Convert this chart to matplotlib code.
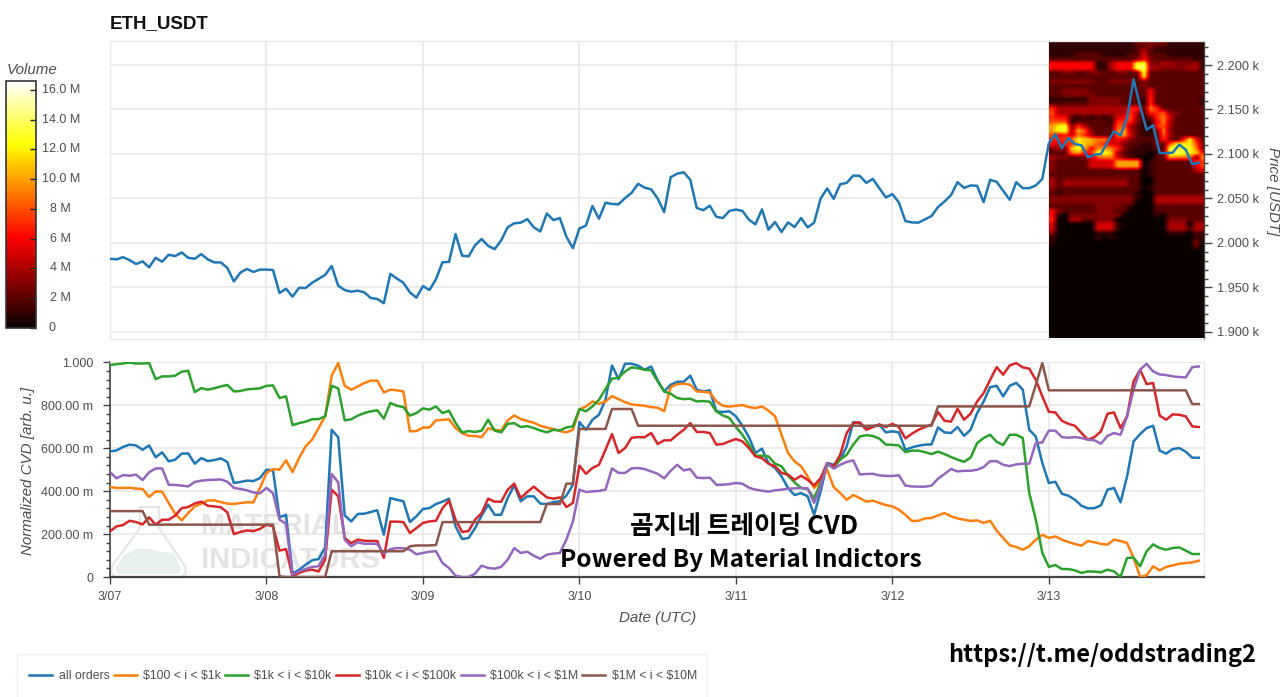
import numpy as np
import matplotlib
matplotlib.use("Agg")
import matplotlib.pyplot as plt
from matplotlib.colors import Normalize
from matplotlib.cm import ScalarMappable
from matplotlib.patches import Polygon, Rectangle
from matplotlib.transforms import Affine2D

W, H = 1280, 697

day_labels = ["3/07", "3/08", "3/09", "3/10", "3/11", "3/12", "3/13"]
day_hours = [0, 24, 48, 72, 96, 120, 144]

price = [
    1982.2, 1981.5, 1984, 1980.7, 1976.3, 1979.3, 1972.6, 1983.3, 1978.9, 1986.7,
    1985.2, 1989.3, 1983.3, 1982.2, 1987.4, 1981.5, 1978.1, 1978.1, 1971.9, 1956.7,
    1966.7, 1970.7, 1967.4, 1970, 1970, 1969.6, 1943.7, 1948.5, 1939.6, 1949.6,
    1949.3, 1955.2, 1959.6, 1964.1, 1974.1, 1951.9, 1947, 1945.2, 1946.3, 1944.4,
    1938.1, 1937, 1932.2, 1965.2, 1960, 1955.2, 1944.4, 1938.5, 1951.5, 1947,
    1959.2, 1978.3, 1978.7, 2009.9, 1985.7, 1984.9, 1997.4, 2004.4, 1996.7, 1993,
    2002.9, 2017.6, 2022.1, 2022.8, 2026.8, 2017.6, 2012.9, 2033.1, 2025.7, 2027.9,
    2007, 1994.1, 2016.2, 2019.5, 2041.5, 2027.2, 2045.2, 2043.8, 2043.4, 2050.4,
    2056.3, 2066.5, 2062.1, 2060.3, 2050, 2034.6, 2073.9, 2077.9, 2079.4, 2071,
    2039.3, 2036.8, 2041.9, 2029.4, 2027.9, 2036, 2037.5, 2036, 2026.1,
    2020.9, 2037.7, 2014.9, 2023.5, 2012.3, 2023.1, 2017.9, 2028, 2017.5, 2022.8,
    2050, 2061.2, 2049.6, 2066, 2067.5, 2075.7, 2075.4, 2067.5, 2072, 2061.6,
    2051.1, 2054.9, 2045.5, 2024.6, 2023.1, 2022.8, 2026.5, 2030.2, 2040.3, 2046.6,
    2053.7, 2068.3, 2061.9, 2064.6, 2064.2, 2045.9, 2070.9, 2068.7, 2058.6, 2048.5,
    2068.3, 2061.6, 2061.6, 2064.6, 2072,
    2112, 2122, 2106.7, 2118, 2111.2, 2109.7, 2096.2, 2099.2, 2100, 2113.5,
    2125.4, 2121, 2140.4, 2183.9, 2153.5, 2127.3, 2132.2, 2101.1, 2101, 2101.5,
    2110.5, 2104.8, 2088.7, 2090.2,
]

# normalized CVD, in milli units
all_orders = [
    585, 590, 606, 617, 613, 593, 613, 558, 581, 539, 547, 575, 576, 528, 554, 540,
    545, 553, 536, 438, 443, 449, 447, 461, 500, 498, 278, 290, 16, 34, 57, 78, 84,
    138, 686, 651, 287, 259, 294, 295, 303, 311, 197, 368, 360,
    353, 256, 283, 317, 321, 340, 351, 365, 236, 177, 182, 228, 286, 337, 290, 290,
    368, 427, 353, 376, 376, 342, 340, 349, 353, 379, 430, 722, 686, 733, 756, 826,
    986, 922, 994, 994, 985, 966, 981, 916, 865, 896, 910, 910, 938, 873, 865, 870,
    772, 769, 772, 749, 705, 652, 578, 598, 531, 508, 469, 415, 382,
    391, 376, 290, 399, 531, 523, 547, 609, 722, 717, 691, 702, 710, 674, 679, 674,
    593, 604, 612, 617, 618, 697, 674, 671, 699, 658, 686, 764, 818, 885, 891, 842,
    891, 905, 873, 686, 655, 531, 438, 444, 388, 379, 360, 332, 320, 321, 334, 407,
    415, 348, 469, 632, 666, 694, 705, 589, 575, 596, 601, 584, 556, 556,
]
tier_100_1k = [
    419, 415, 415, 416, 412, 410, 373, 399, 398, 345, 295, 264, 298, 329, 342, 357,
    357, 349, 342, 340, 345, 348, 348, 415, 485, 503, 500, 544, 489, 554, 609, 640,
    694, 749, 938, 997, 891, 873, 888, 904, 915, 915, 860, 873, 870,
    865, 679, 680, 696, 697, 730, 732, 735, 694, 671, 658, 657, 652, 693, 686, 682,
    730, 753, 736, 727, 719, 705, 696, 690, 680, 674, 686, 780, 795, 818, 807, 818,
    843, 829, 815, 804, 801, 798, 792, 789, 773, 885, 899, 901, 896, 865, 863, 860,
    818, 798, 794, 798, 801, 792, 787, 795, 775, 749, 663, 578, 539,
    516, 469, 415, 446, 500, 419, 391, 360, 382, 368, 351, 356, 345, 335, 329, 314,
    290, 261, 262, 273, 275, 287, 298, 283, 273, 267, 261, 264, 252, 262, 216, 182,
    148, 140, 127, 143, 174, 197, 182, 189, 174, 163, 154, 146, 168, 162, 154, 151,
    174, 168, 158, 89, 0, 8, 50, 31, 47, 54, 62, 65, 68, 76,
]
tier_1k_10k = [
    988, 992, 995, 999, 995, 995, 997, 922, 935, 935, 938, 957, 961, 862, 880, 873,
    880, 888, 895, 865, 867, 874, 877, 879, 891, 893, 834, 842, 708, 717, 724, 735,
    736, 749, 891, 879, 730, 735, 752, 764, 772, 777, 738, 811, 798,
    792, 752, 764, 786, 780, 795, 764, 775, 718, 674, 680, 676, 682, 733, 682, 674,
    714, 717, 699, 703, 694, 683, 674, 686, 683, 697, 702, 783, 772, 795, 826, 876,
    924, 929, 958, 977, 973, 966, 963, 912, 865, 854, 834, 829, 831, 818, 820, 817,
    772, 753, 741, 699, 663, 617, 565, 565, 562, 528, 516, 472, 441,
    415, 410, 368, 438, 523, 512, 547, 570, 617, 655, 661, 657, 645, 617, 616, 613,
    582, 589, 589, 582, 573, 584, 573, 559, 547, 537, 556, 624, 648, 663, 630, 615,
    663, 663, 648, 391, 267, 112, 47, 56, 37, 37, 31, 19, 26, 25, 22, 34,
    26, 0, 89, 90, 50, 120, 152, 135, 127, 135, 138, 123, 107, 107,
]
tier_10k_100k = [
    213, 236, 242, 262, 256, 245, 278, 244, 267, 267, 286, 321, 326, 343, 351, 332,
    329, 325, 301, 200, 210, 217, 214, 224, 244, 236, 123, 130, 3, 19, 30, 34, 26,
    81, 407, 376, 182, 158, 174, 169, 168, 168, 89, 258, 258,
    256, 205, 228, 252, 259, 262, 321, 356, 267, 210, 214, 267, 298, 365, 351, 351,
    407, 435, 368, 396, 421, 396, 371, 365, 371, 326, 345, 519, 481, 508, 523, 593,
    666, 578, 601, 649, 652, 651, 671, 620, 637, 637, 663, 686, 717, 676, 676, 671,
    617, 620, 632, 643, 632, 601, 562, 554, 528, 516, 485, 477, 453,
    472, 453, 427, 461, 531, 516, 570, 671, 717, 721, 686, 699, 711, 699, 714, 699,
    646, 668, 686, 699, 710, 769, 728, 724, 784, 733, 761, 818, 857, 919, 978, 943,
    986, 997, 977, 971, 919, 842, 770, 767, 728, 714, 705, 671, 640, 652, 679, 761,
    767, 694, 749, 912, 966, 899, 904, 752, 733, 758, 756, 749, 702, 699,
]
tier_100k_1m = [
    489, 460, 475, 472, 477, 452, 488, 506, 506, 430, 429, 426, 422, 443, 449, 452,
    453, 455, 444, 416, 410, 404, 394, 390, 415, 391, 267, 248, 11, 26, 37, 47, 50,
    104, 480, 441, 174, 143, 162, 155, 155, 154, 109, 130, 135,
    134, 127, 106, 112, 118, 120, 65, 42, 6, 0, 0, 16, 53, 42, 39, 47,
    81, 135, 112, 118, 99, 85, 104, 109, 112, 174, 259, 407, 396, 399, 401, 407,
    506, 485, 485, 506, 508, 503, 492, 481, 460, 495, 523, 497, 503, 463, 461, 463,
    430, 430, 433, 438, 435, 416, 407, 402, 398, 404, 407, 412, 413,
    415, 413, 345, 422, 531, 505, 523, 536, 544, 478, 480, 481, 474, 471, 471, 474,
    426, 422, 421, 421, 426, 458, 480, 503, 492, 495, 495, 500, 512, 540, 540, 523,
    517, 525, 528, 528, 624, 627, 682, 682, 652, 649, 652, 648, 640, 637, 621, 658,
    671, 663, 749, 873, 966, 994, 958, 944, 941, 935, 932, 930, 978, 981,
]
tier_1m_10m = [
    307, 307, 307, 307, 307, 307, 244, 244, 244, 244, 244, 244, 244, 244, 244, 244,
    244, 244, 244, 244, 244, 244, 244, 244, 244, 244, 3, 0, 0, 0, 0, 0, 0,
    0, 120, 120, 120, 120, 120, 120, 120, 120, 120, 120, 120,
    120, 143, 147, 147, 147, 149, 256, 256, 256, 256, 256, 256, 256, 256, 256, 256,
    256, 256, 256, 256, 256, 256, 340, 340, 340, 435, 435, 690, 690, 690, 690, 690,
    783, 783, 783, 783, 705, 705, 705, 705, 705, 705, 705, 705, 705, 705, 705, 705,
    705, 705, 705, 705, 705, 705, 705, 705, 705, 705, 705, 705, 705,
    705, 705, 705, 705, 705, 705, 705, 705, 705, 705, 705, 705, 705, 705, 705, 705,
    705, 705, 705, 705, 705, 795, 795, 795, 795, 795, 795, 795, 795, 795, 795, 795,
    795, 795, 795, 795, 896, 997, 870, 870, 870, 870, 870, 870, 870, 870, 870, 870,
    870, 870, 870, 870, 870, 870, 870, 870, 870, 870, 870, 870, 806, 806,
]

series_labels = ["all orders", r"\$100 < i < \$1k", r"\$1k < i < \$10k",
                 r"\$10k < i < \$100k", r"\$100k < i < \$1M", r"\$1M < i < \$10M"]
series_colors = ["#1f77b4", "#ff7f0e", "#2ca02c", "#d62728", "#9467bd", "#8c564b"]

# volume per price bin (5 USD) and hour from 3/13 on, top row first, in M (base 36 digits)
volume_rows = [
    "111111111111133333111111",
    "111111111111122322111111",
    "111111111111124211111111",
    "111122221111225222111111",
    "222222222222236322222211",
    "6666666114666dd334433341",
    "6666666114666ee443333441",
    "22332233223323d222222222",
    "22222222222222b222222222",
    "333333322333323222222222",
    "222222222222223222222222",
    "223333222222222622222222",
    "223333322222222622222222",
    "111111333332221722222221",
    "222222333332221722222221",
    "744444444444772972222222",
    "844444444444742778332222",
    "766212121256831379522222",
    "888122222177731169422222",
    "acd374222288421178422222",
    "add4a832229a421139322222",
    "86759742229a521128422222",
    "7779cba99565322227326c62",
    "6577cba875532211328ccc83",
    "343bda69a973211122dddd93",
    "2229a67ddb42111013dedcb6",
    "433223589953210022a9993a",
    "3222225555aaaa0122222277",
    "3222225555aaaa0122222258",
    "322222222222220122222245",
    "222222222222220122222222",
    "423333333333220022222222",
    "424444444444220022222222",
    "322222222222220122222222",
    "212222222222210022222222",
    "333333333333310044444444",
    "333333333333300044444444",
    "222222233332100022222222",
    "632222233322000022222222",
    "610333333330000010222222",
    "700442233300000000333222",
    "500000055510000000444044",
    "500000055510000000444244",
    "300000011100000000111021",
    "100000010100000000000011",
    "100000000000000000000030",
    "000000000000000000000020",
] + ["000000000000000000000000"] * 20
volume_top = 2228
volume_step = 5

price_ticks = [1900, 1950, 2000, 2050, 2100, 2150, 2200]
cvd_ticks = [0, 200, 400, 600, 800, 1000]
cvd_tick_labels = ["0", "200.00 m", "400.00 m", "600.00 m", "800.00 m", "1.000"]
colorbar_ticks = [0, 2, 4, 6, 8, 10, 12, 14, 16]
colorbar_labels = ["0", "2 M", "4 M", "6 M", "8 M", "10.0 M", "12.0 M", "14.0 M", "16.0 M"]

plt.rcParams["font.family"] = ["Liberation Sans", "DejaVu Sans"]
GRID = "#e9e9e9"
DARK = "#444444"
TXT = "#4d4d4d"

fig = plt.figure(figsize=(W / 100, H / 100), dpi=100)
px = Affine2D().scale(1 / W, -1 / H).translate(0, 1) + fig.transFigure


def add_ax(left, top, right, bottom):
    return fig.add_axes([left / W, 1 - bottom / H, (right - left) / W, (bottom - top) / H])


def ftext(x, y, s, **kw):
    kw.setdefault("ha", "center")
    kw.setdefault("va", "center")
    return fig.text(x / W, 1 - y / H, s, **kw)


hours = np.arange(len(price))
xmax = 167.8
norm = Normalize(0, 16.6)

# price panel
ax = add_ax(110, 41, 1204, 339)
ax.set_axisbelow(True)
ax.grid(True, color=GRID, lw=1.3)
volume = np.array([[int(c, 36) for c in row] for row in volume_rows], dtype=float)
volume_bottom = volume_top - volume_step * volume.shape[0]
ax.imshow(volume, cmap="hot", norm=norm, aspect="auto", interpolation="bilinear", zorder=1.5,
          extent=[day_hours[-1], day_hours[-1] + volume.shape[1], volume_bottom, volume_top])
ax.plot(hours, price, color=series_colors[0], lw=1.8, zorder=3, solid_joinstyle="round")
ax.set_xlim(0, xmax)
ax.set_ylim(1892, 2227)
ax.set_xticks(day_hours)
ax.tick_params(axis="x", length=0, labelbottom=False)
ax.yaxis.tick_right()
ax.set_yticks(price_ticks, labels=[f"{v / 1000:.3f} k" for v in price_ticks])
ax.set_yticks(np.arange(1900, 2230, 10), minor=True)
ax.tick_params(axis="y", which="major", length=5.5, width=1, color=DARK, labelcolor=TXT,
               labelsize=9.2, pad=4)
ax.tick_params(axis="y", which="minor", length=3, width=1, color=DARK)
for name, spine in ax.spines.items():
    spine.set_color(GRID)
    spine.set_linewidth(1)
ax.spines["right"].set_color(DARK)
ftext(110, 24, "ETH_USDT", ha="left", fontsize=13.5, fontweight="bold", color="#111111")
ftext(1273, 191, "Price [USDT]", rotation=270, style="italic", fontsize=10.9, color=TXT)

# colour bar
cax = add_ax(6, 81, 35.5, 328)
cbar = fig.colorbar(ScalarMappable(norm=norm, cmap="hot"), cax=cax)
cbar.set_ticks(colorbar_ticks)
cax.set_yticklabels([])
cax.tick_params(axis="y", direction="in", length=4.5, width=1, color="#222222", right=True)
cbar.minorticks_off()
cbar.outline.set_edgecolor("#333333")
cbar.outline.set_linewidth(1.2)
for v, lab in zip(colorbar_ticks, colorbar_labels):
    xpos = 1.56 if v == 0 else 1.86
    cax.text(xpos, v, lab, transform=cax.get_yaxis_transform(), ha="center", va="center",
             fontsize=9, color=TXT)
ftext(7, 70, "Volume", ha="left", style="italic", fontsize=10.9, color=TXT)

# CVD panel
ax2 = add_ax(110, 362, 1204, 577)
ax2.set_axisbelow(True)
ax2.grid(True, color=GRID, lw=1.3)
cvd_series = [all_orders, tier_100_1k, tier_1k_10k, tier_10k_100k, tier_100k_1m, tier_1m_10m]
handles = []
for vals, lab, col in zip(cvd_series, series_labels, series_colors):
    line, = ax2.plot(hours, vals, color=col, lw=1.8, label=lab, zorder=3,
                     solid_joinstyle="round")
    handles.append(line)
ax2.set_xlim(0, xmax)
ax2.set_ylim(0, 1002)
ax2.set_xticks(day_hours, labels=day_labels)
ax2.set_yticks(cvd_ticks, labels=cvd_tick_labels)
ax2.set_yticks(np.arange(0, 1001, 40), minor=True)
ax2.tick_params(axis="both", which="major", length=5, width=1, color=DARK, labelcolor=TXT,
                labelsize=9)
ax2.tick_params(axis="y", which="major", pad=7)
ax2.tick_params(axis="x", which="major", pad=5)
ax2.tick_params(axis="y", which="minor", length=3, width=1, color=DARK)
for name, spine in ax2.spines.items():
    spine.set_color(GRID)
    spine.set_linewidth(1)
ax2.spines["left"].set_color(DARK)
ax2.spines["left"].set_linewidth(1.2)
ax2.spines["bottom"].set_color(DARK)
ax2.spines["bottom"].set_linewidth(1.6)
ftext(28, 471, "Normalized CVD [arb. u.]", rotation=90, style="italic", fontsize=10.9, color=TXT)
ftext(658, 618, "Date (UTC)", style="italic", fontsize=10.9, color=TXT)

# watermark logo behind the lines
flask = [(140, 507), (159, 507), (159, 528), (185, 566), (186, 573), (182, 577), (115, 577),
         (111, 573), (112, 566), (140, 528)]
ax2.add_patch(Polygon(flask, closed=True, fc="none", ec="#e6e6e6", lw=1.6, transform=px,
                      clip_on=False, zorder=1))
water = [(124, 555), (136, 549), (150, 549), (160, 552), (174, 553), (181, 569), (178, 574),
         (119, 574), (115, 569)]
ax2.add_patch(Polygon(water, closed=True, fc="#e8efef", ec="none", transform=px,
                      clip_on=False, zorder=1))
for txt, y in [("MATERIAL", 526), ("INDICATORS", 560)]:
    ax2.text(201, y, txt, transform=px, ha="left", va="center", fontsize=21, fontweight="bold",
             color="#e4e4e4", zorder=1)

# text pasted on top of the chart
ko = ["Noto Sans CJK KR", "DejaVu Sans"]
ftext(744, 527, "곰지네 트레이딩 CVD", family=ko, fontsize=18.5, fontweight="bold", color="black", zorder=5)
ftext(741, 560, "Powered By Material Indictors", family=ko, fontsize=17.5, fontweight="bold",
      color="black", zorder=5)
ftext(1102, 655, "https://t.me/oddstrading2", family=ko, fontsize=17, fontweight="bold", color="black")

# legend
fig.add_artist(Rectangle((17, 654), 690, 50, fc="white", ec="#f0f0f0", lw=1, transform=px))
fig.legend(handles=handles, loc="center left", bbox_to_anchor=(17 / W, 1 - 676 / H),
           borderaxespad=0, ncol=6, frameon=False, fontsize=8.8, labelcolor=TXT, handlelength=1.9,
           handletextpad=0.5, columnspacing=0.35, borderpad=1)

fig.savefig("out.png", dpi=100)
